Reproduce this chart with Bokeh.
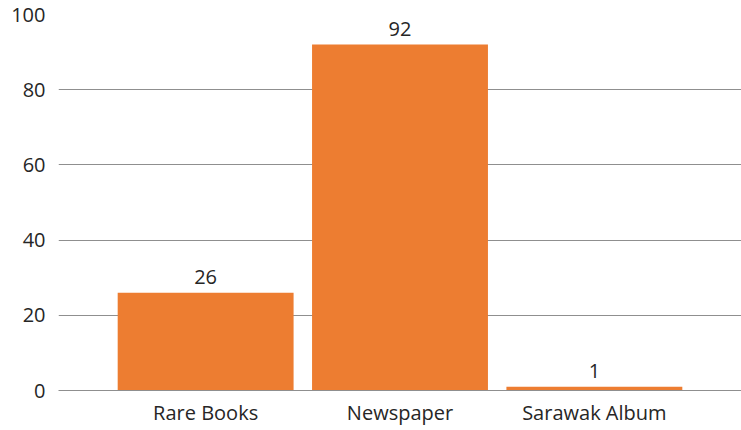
from bokeh.plotting import figure
from bokeh.models import ColumnDataSource, LabelSet, FixedTicker, FactorRange, Range1d
from bokeh.core.properties import value
from bokeh.embed import file_html
from bokeh.resources import INLINE

categories = ["Rare Books", "Newspaper", "Sarawak Album"]
counts = [26, 92, 1]
y_ticks = [0, 20, 40, 60, 80, 100]

FONT = "Open Sans"
TXT = "#262626"
GRID = "#8f8f8f"

src = ColumnDataSource(dict(cat=categories, val=counts, lab=[str(v) for v in counts]))

p = figure(
    x_range=FactorRange(*categories, range_padding=0.257, range_padding_units="absolute"),
    y_range=Range1d(0, 100),
    width=741, height=428,
    output_backend="svg", toolbar_location=None,
    min_border_left=58, min_border_right=0, min_border_top=14, min_border_bottom=0,
)
p.outline_line_color = None
p.background_fill_color = "white"
p.border_fill_color = "white"

p.vbar(x="cat", top="val", width=0.905, source=src, color="#ED7D31", line_color=None)

labels = LabelSet(x="cat", y="val", text="lab", source=src, text_align="center",
                  text_baseline="bottom", y_offset=9, text_font=value(FONT),
                  text_font_size="20px", text_color=TXT)
p.add_layout(labels)

p.yaxis.ticker = FixedTicker(ticks=y_ticks)
p.yaxis.axis_line_color = None
p.yaxis.major_tick_line_color = None
p.yaxis.minor_tick_line_color = None
p.yaxis.major_tick_out = 0
p.yaxis.major_label_standoff = 13
p.yaxis.major_label_text_font = FONT
p.yaxis.major_label_text_font_size = "20px"
p.yaxis.major_label_text_color = TXT

p.xaxis.axis_line_color = GRID
p.xaxis.major_tick_line_color = None
p.xaxis.minor_tick_line_color = None
p.xaxis.major_tick_out = 0
p.xaxis.major_label_standoff = 8
p.xaxis.major_label_text_font = FONT
p.xaxis.major_label_text_font_size = "20px"
p.xaxis.major_label_text_color = TXT

p.xgrid.grid_line_color = None
p.ygrid.grid_line_color = GRID
p.ygrid.grid_line_width = 1

open("out.html", "w").write(file_html(p, INLINE))
